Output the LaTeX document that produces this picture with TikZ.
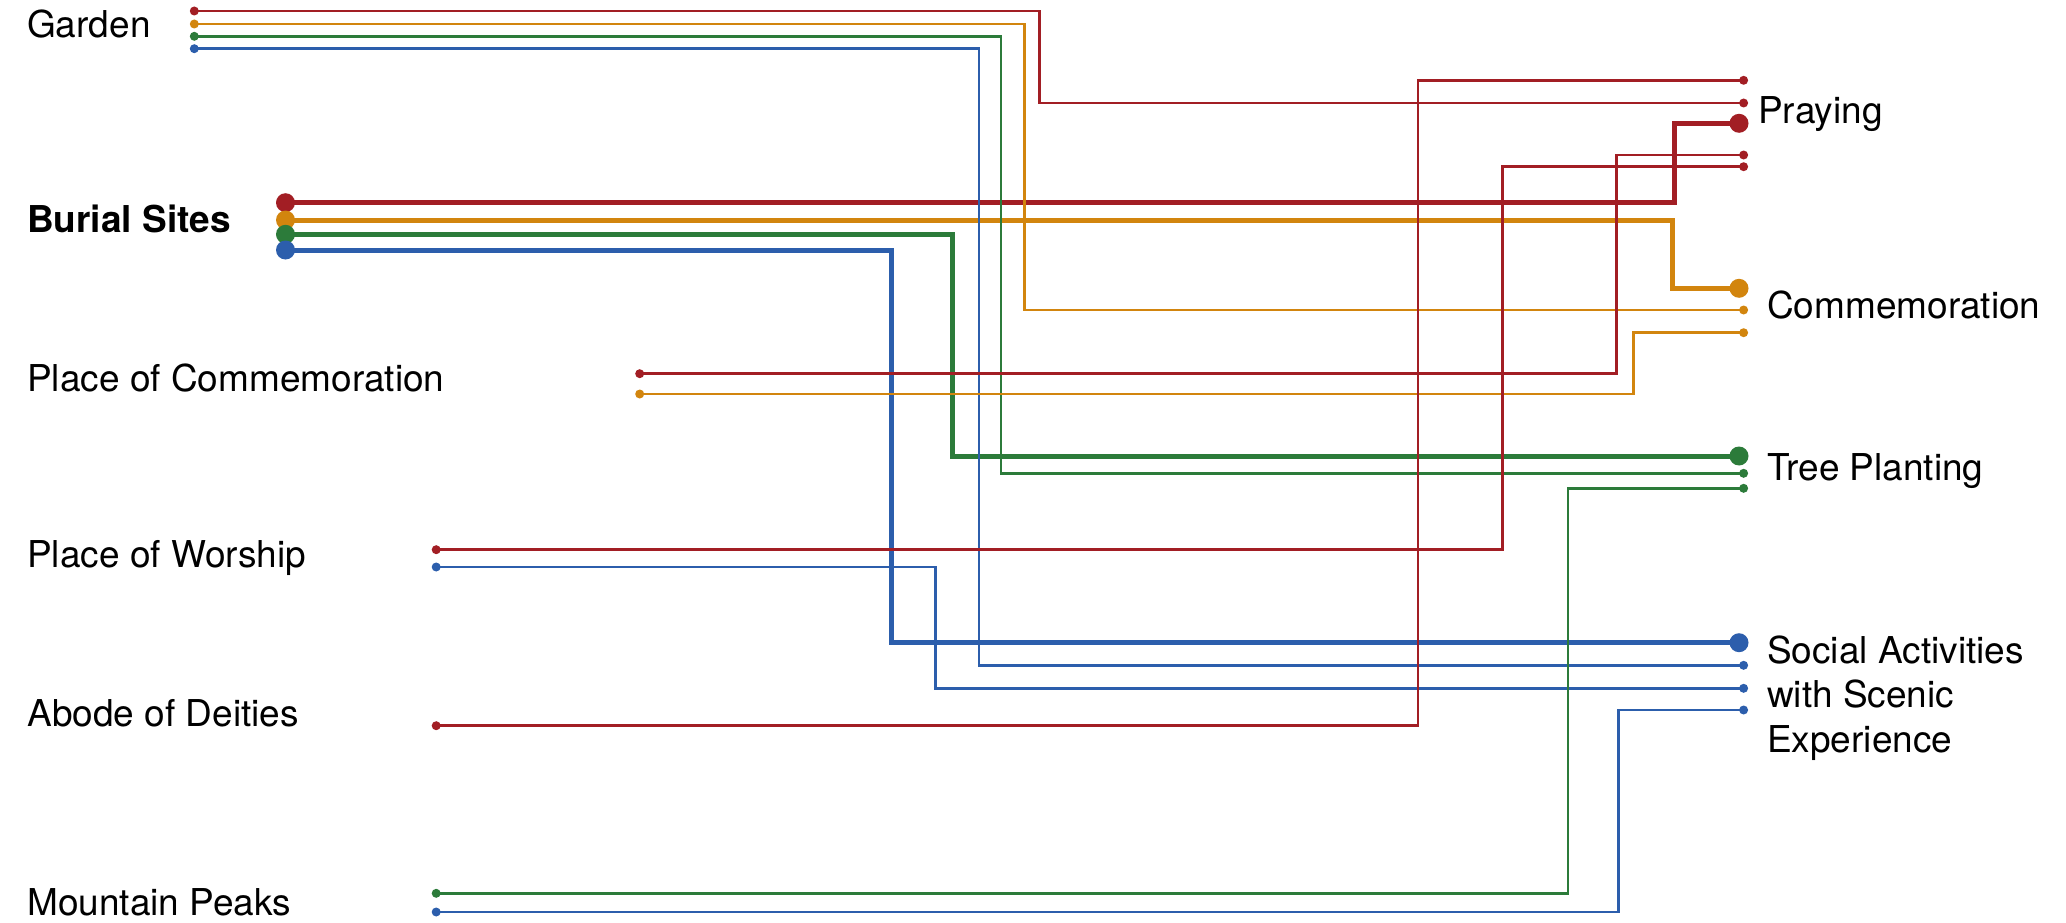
\documentclass[tikz,border=0pt]{standalone}
\usepackage{fontspec}
\setmainfont{TeX Gyre Heros}
\definecolor{lnR}{RGB}{162,30,36}
\definecolor{lnO}{RGB}{210,133,14}
\definecolor{lnG}{RGB}{44,123,58}
\definecolor{lnB}{RGB}{44,94,172}
\pgfdeclarelayer{bg}
\pgfsetlayers{bg,main}
\tikzset{
  dotS/.style={circle,fill=#1,inner sep=0pt,minimum size=9pt},
  dotL/.style={circle,fill=#1,inner sep=0pt,minimum size=19pt},
  linkthin/.style={draw=#1,line width=2.6pt,line join=miter},
  linkthick/.style={draw=#1,line width=5pt,line join=miter},
  lbl/.style={anchor=base west,inner sep=0pt,font=\fontsize{37}{44.8}\selectfont,align=left},
}
\begin{document}
\begin{tikzpicture}[x=1pt,y=-1pt]
\useasboundingbox (0,0) rectangle (2066,923);
% labels
\node[lbl] (Lgarden) at (27,37.3) {Garden};
\node[lbl,font=\fontsize{37}{44.8}\selectfont\bfseries] (Lburial) at (27,232.7) {Burial Sites};
\node[lbl] (Lcomm) at (27,391.7) {Place of Commemoration};
\node[lbl] (Lworship) at (27,567.3) {Place of Worship};
\node[lbl] (Labode) at (27,726.7) {Abode of Deities};
\node[lbl] (Lmount) at (27,915) {Mountain Peaks};
\node[lbl] (Rpray) at (1758,124) {Praying};
\node[lbl] (Rcomm) at (1767,318) {Commemoration};
\node[lbl] (Rtree) at (1767,480) {Tree Planting};
\node[lbl] (Rsoc) at (1767,752.7) {Social Activities\\with Scenic\\Experience};
% left dots
\node[dotS=lnR] (gR) at (194.3,11) {};
\node[dotS=lnO] (gO) at (194.3,24) {};
\node[dotS=lnG] (gG) at (194.3,36.3) {};
\node[dotS=lnB] (gB) at (194.3,48.7) {};
\node[dotL=lnR] (bR) at (285.5,202.7) {};
\node[dotL=lnO] (bO) at (285.5,220) {};
\node[dotL=lnG] (bG) at (285.5,234.3) {};
\node[dotL=lnB] (bB) at (285.5,250) {};
\node[dotS=lnR] (cR) at (639.7,373.7) {};
\node[dotS=lnO] (cO) at (639.7,394) {};
\node[dotS=lnR] (wR) at (436.2,549.7) {};
\node[dotS=lnB] (wB) at (436.2,567) {};
\node[dotS=lnR] (aR) at (436.2,725.7) {};
\node[dotS=lnG] (mG) at (436.2,893.3) {};
\node[dotS=lnB] (mB) at (436.2,912) {};
% right dots
\node[dotS=lnR] (pR1) at (1743.6,80.3) {};
\node[dotS=lnR] (pR2) at (1743.6,103) {};
\node[dotL=lnR] (pBig) at (1739,123.3) {};
\node[dotS=lnR] (pR3) at (1743.6,155) {};
\node[dotS=lnR] (pR4) at (1743.6,166.7) {};
\node[dotL=lnO] (cBig) at (1739,288.3) {};
\node[dotS=lnO] (cO1) at (1743.6,310) {};
\node[dotS=lnO] (cO2) at (1743.6,332.7) {};
\node[dotL=lnG] (tBig) at (1739,456) {};
\node[dotS=lnG] (tG1) at (1743.6,473.3) {};
\node[dotS=lnG] (tG2) at (1743.6,488.3) {};
\node[dotL=lnB] (sBig) at (1739,642.7) {};
\node[dotS=lnB] (sB1) at (1743.6,665.3) {};
\node[dotS=lnB] (sB2) at (1743.6,688.3) {};
\node[dotS=lnB] (sB3) at (1743.6,710) {};
% vertical turn positions
\coordinate (vbR) at (1674,0);
\coordinate (vbO) at (1672,0);
\coordinate (vbG) at (952.5,0);
\coordinate (vbB) at (891,0);
\coordinate (vgR) at (1039.6,0);
\coordinate (vgO) at (1024.5,0);
\coordinate (vgG) at (1001,0);
\coordinate (vgB) at (978.8,0);
\coordinate (vcR) at (1616.7,0);
\coordinate (vcO) at (1633.7,0);
\coordinate (vwR) at (1502.4,0);
\coordinate (vwB) at (935.4,0);
\coordinate (vaR) at (1417.8,0);
\coordinate (vmG) at (1567.8,0);
\coordinate (vmB) at (1618.4,0);
\begin{pgfonlayer}{bg}
% thick links from Burial Sites
\draw[linkthick=lnR] (bR.center) -| (vbR |- pBig.center) -- (pBig.center);
\draw[linkthick=lnO] (bO.center) -| (vbO |- cBig.center) -- (cBig.center);
\draw[linkthick=lnG] (bG.center) -| (vbG |- tBig.center) -- (tBig.center);
\draw[linkthick=lnB] (bB.center) -| (vbB |- sBig.center) -- (sBig.center);
% thin links
\draw[linkthin=lnR] (gR.center) -| (vgR |- pR2.center) -- (pR2.center);
\draw[linkthin=lnO] (gO.center) -| (vgO |- cO1.center) -- (cO1.center);
\draw[linkthin=lnG] (gG.center) -| (vgG |- tG1.center) -- (tG1.center);
\draw[linkthin=lnB] (gB.center) -| (vgB |- sB1.center) -- (sB1.center);
\draw[linkthin=lnR] (cR.center) -| (vcR |- pR3.center) -- (pR3.center);
\draw[linkthin=lnO] (cO.center) -| (vcO |- cO2.center) -- (cO2.center);
\draw[linkthin=lnR] (wR.center) -| (vwR |- pR4.center) -- (pR4.center);
\draw[linkthin=lnB] (wB.center) -| (vwB |- sB2.center) -- (sB2.center);
\draw[linkthin=lnR] (aR.center) -| (vaR |- pR1.center) -- (pR1.center);
\draw[linkthin=lnG] (mG.center) -| (vmG |- tG2.center) -- (tG2.center);
\draw[linkthin=lnB] (mB.center) -| (vmB |- sB3.center) -- (sB3.center);
\end{pgfonlayer}
\end{tikzpicture}
\end{document}
